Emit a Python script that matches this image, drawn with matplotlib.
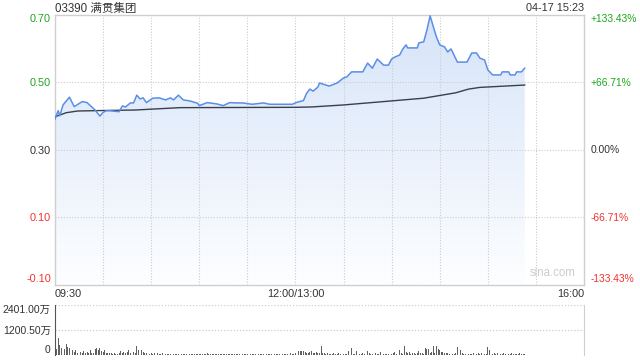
import matplotlib
matplotlib.use('Agg')
import matplotlib.pyplot as plt
import numpy as np
from matplotlib.patches import Polygon

plt.rcParams['font.family'] = ['Liberation Sans', 'Noto Sans CJK SC', 'DejaVu Sans']

TITLE = '03390 满贯集团'
STAMP = '04-17 15:23'

# minutes since 09:30 with lunch break removed (12:00 and 13:00 both = 150)
PRICE_T = [0, 2, 3, 5, 9, 12, 17, 20, 25, 28, 30, 32, 34, 40, 42, 44, 47, 49, 51, 53,
           55, 57, 61, 65, 69, 72, 74, 77, 80, 84, 89, 90, 95, 101, 105, 109, 113, 117, 123, 130,
           134, 148, 151, 155, 157, 159, 161, 164, 165, 171, 176, 180, 182, 185, 192, 195, 198, 201, 205, 208,
           210, 212, 215, 217, 219, 220, 223, 226, 227, 230, 232, 234, 237, 238, 240, 243, 245, 247, 248, 251,
           257, 260, 263, 265, 268, 270, 273, 278, 279, 283, 284, 287, 288, 291, 293]
PRICE = [0.390, 0.415, 0.400, 0.432, 0.455, 0.427, 0.442, 0.439, 0.417, 0.399, 0.410, 0.415, 0.415, 0.412, 0.429, 0.426, 0.438, 0.438, 0.461, 0.450,
         0.453, 0.439, 0.452, 0.453, 0.447, 0.453, 0.447, 0.461, 0.447, 0.444, 0.437, 0.430, 0.439, 0.435, 0.430, 0.439, 0.438, 0.438, 0.434, 0.438,
         0.434, 0.434, 0.440, 0.445, 0.467, 0.479, 0.473, 0.485, 0.497, 0.488, 0.497, 0.512, 0.515, 0.530, 0.530, 0.556, 0.541, 0.568, 0.550, 0.550,
         0.568, 0.574, 0.580, 0.598, 0.610, 0.601, 0.601, 0.601, 0.616, 0.619, 0.654, 0.696, 0.648, 0.633, 0.610, 0.604, 0.589, 0.598, 0.589, 0.559,
         0.559, 0.586, 0.586, 0.571, 0.565, 0.536, 0.521, 0.521, 0.530, 0.530, 0.521, 0.521, 0.530, 0.530, 0.541]

AVG_T = [0, 7, 14, 24, 50, 78, 150, 160, 180, 215, 230, 235, 245, 250, 258, 265, 293]
AVG = [0.397, 0.409, 0.414, 0.415, 0.417, 0.424, 0.425, 0.426, 0.432, 0.446, 0.452, 0.456, 0.464, 0.468, 0.479, 0.484, 0.491]

# volume per minute, in 万
VOL = [2401, 300, 830, 480, 320, 480, 270, 520, 400, 320, 350, 240, 160, 240, 120, 90, 160, 80, 200, 100, 150, 80, 220, 120, 100, 300, 320, 250, 330, 200,
       150, 260, 100, 80, 120, 90, 60, 100, 50, 60, 110, 200, 80, 150, 120, 160, 240, 100, 250, 150, 120, 420, 240, 180, 250, 160, 120, 80, 100, 60,
       80, 50, 80, 350, 80, 60, 40, 80, 240, 60, 50, 40, 60, 30, 50, 40, 70, 30, 40, 50, 30, 60, 40, 30, 50, 40, 30, 60, 40, 50,
       30, 40, 50, 30, 40, 80, 30, 50, 40, 30, 60, 40, 30, 50, 40, 30, 40, 60, 30, 40, 50, 30, 40, 30, 50, 40, 30, 50, 40, 30,
       40, 50, 30, 40, 60, 30, 40, 50, 30, 40, 50, 30, 40, 30, 50, 40, 30, 40, 50, 30, 40, 30, 60, 40, 30, 50, 40, 80, 60, 50,
       100, 120, 190, 200, 180, 190, 150, 120, 100, 160, 200, 120, 90, 150, 100, 80, 450, 100, 80, 60, 120, 50, 40, 60, 100, 50, 40, 80, 60, 40,
       60, 50, 40, 200, 100, 320, 60, 50, 180, 80, 60, 40, 100, 60, 450, 190, 80, 60, 40, 60, 80, 60, 50, 160, 80, 50, 60, 40, 50, 40,
       60, 120, 160, 60, 80, 240, 100, 60, 450, 160, 120, 150, 60, 80, 100, 60, 90, 200, 120, 80, 60, 350, 290, 290, 120, 160, 450, 120, 450, 290,
       240, 160, 160, 120, 100, 80, 60, 80, 60, 50, 100, 400, 290, 240, 80, 60, 50, 40, 60, 50, 40, 80, 60, 50, 120, 60, 80, 40, 50, 60,
       400, 240, 240, 60, 80, 60, 100, 60, 40, 60, 80, 50, 40, 60, 50, 80, 40, 50, 60, 40, 80, 60, 50, 60]
VOL_MAX = 2401.0

Y_TICKS = [0.70, 0.50, 0.30, 0.10, -0.10]
Y_LABELS = ['0.70', '0.50', '0.30', '0.10', '-0.10']
PCT_LABELS = ['+133.43%', '+66.71%', '0.00%', '-66.71%', '-133.43%']
X_TICKS = [0, 150, 330]
X_LABELS = ['09:30', '12:00/13:00', '16:00']

GREEN = '#1aa81a'; RED = '#f0332f'; DARK = '#333333'; GRID = '#cccccc'
FS = 7.8

fig = plt.figure(figsize=(6.4, 3.6), dpi=100)
ax = fig.add_axes([55/640, 1-284.5/360, 529/640, 270/360])
ax.set_xlim(0, 330); ax.set_ylim(-0.10, 0.70)

# gradient area under price
xs = np.array(PRICE_T, float); ys = np.array(PRICE)
poly = Polygon(np.column_stack([np.r_[xs, xs[-1], xs[0]], np.r_[ys, -0.10, -0.10]]),
               closed=True, facecolor='none', edgecolor='none')
ax.add_patch(poly)
top = np.array([214, 228, 249]) / 255; bot = np.array([253, 254, 255]) / 255
g = np.linspace(0, 1, 256)[:, None]
img = (top[None, :] * (1 - g) + bot[None, :] * g)[:, None, :]
im = ax.imshow(img, extent=[0, 330, -0.10, 0.70], aspect='auto', origin='upper', zorder=1)
im.set_clip_path(poly)

for t in range(30, 330, 30):
    ax.axvline(t, color=GRID, lw=0.8, ls=(0, (1, 1.5)), zorder=2)
for yv in [0.50, 0.30, 0.10]:
    ax.axhline(yv, color=GRID, lw=0.8, ls=(0, (1, 1.5)), zorder=2)

ax.plot(PRICE_T, PRICE, color='#5b8ee6', lw=1.1, zorder=4)
ax.plot(AVG_T, AVG, color='#3a3f4a', lw=1.0, zorder=3)

for s in ax.spines.values():
    s.set_color('#cfcfcf'); s.set_linewidth(1.0)
ax.tick_params(length=0, labelsize=FS, pad=3)
ax.set_yticks(Y_TICKS); ax.set_yticklabels(Y_LABELS)
cols = [GREEN, GREEN, DARK, RED, RED]
for lab, c in zip(ax.get_yticklabels(), cols):
    lab.set_color(c)
labs = ax.get_yticklabels()
labs[0].set_va('top'); labs[-1].set_va('bottom')

ax2 = ax.twinx()
ax2.set_ylim(-0.10, 0.70)
ax2.set_yticks(Y_TICKS); ax2.set_yticklabels(PCT_LABELS)
ax2.tick_params(length=0, labelsize=7.4, pad=5)
for lab, c in zip(ax2.get_yticklabels(), cols):
    lab.set_color(c)
labs2 = ax2.get_yticklabels()
labs2[0].set_va('top'); labs2[-1].set_va('bottom')
for s in ax2.spines.values():
    s.set_visible(False)

ax.set_xticks(X_TICKS); ax.set_xticklabels(X_LABELS, color=DARK)
xl = ax.get_xticklabels()
xl[0].set_ha('left'); xl[-1].set_ha('right')

ax.text(0.0, 1.009, TITLE, transform=ax.transAxes, ha='left', va='baseline', fontsize=8.3, color=DARK)
ax.text(1.0, 1.012, STAMP, transform=ax.transAxes, ha='right', va='baseline', fontsize=FS, color=DARK)
ax.text(0.940, 0.02, 'sina.com', transform=ax.transAxes, ha='center', va='bottom', fontsize=8.3, color='#cccccc', zorder=5)

# volume panel
vx = fig.add_axes([55/640, 1-355/360, 529/640, 50/360])
vx.set_xlim(0, 330); vx.set_ylim(0, VOL_MAX)
vx.bar(range(len(VOL)), VOL, width=0.55, color='#606060', zorder=3)
for yv in [VOL_MAX, VOL_MAX / 2]:
    vx.axhline(yv, color=GRID, lw=0.9, ls=(0, (1, 1.5)), zorder=1)
vx.spines['top'].set_visible(False); vx.spines['bottom'].set_visible(False)
vx.spines['left'].set_color('#555555'); vx.spines['right'].set_color('#cfcfcf')
vx.set_xticks([])
vx.set_yticks([VOL_MAX, VOL_MAX / 2, 0])
vx.set_yticklabels(['2401.00万', '1200.50万', '0'])
vx.tick_params(length=0, labelsize=7.5, pad=3, colors=DARK)
vl = vx.get_yticklabels()
vl[0].set_va('top'); vl[-1].set_va('bottom')

fig.savefig('out.png', dpi=100)
